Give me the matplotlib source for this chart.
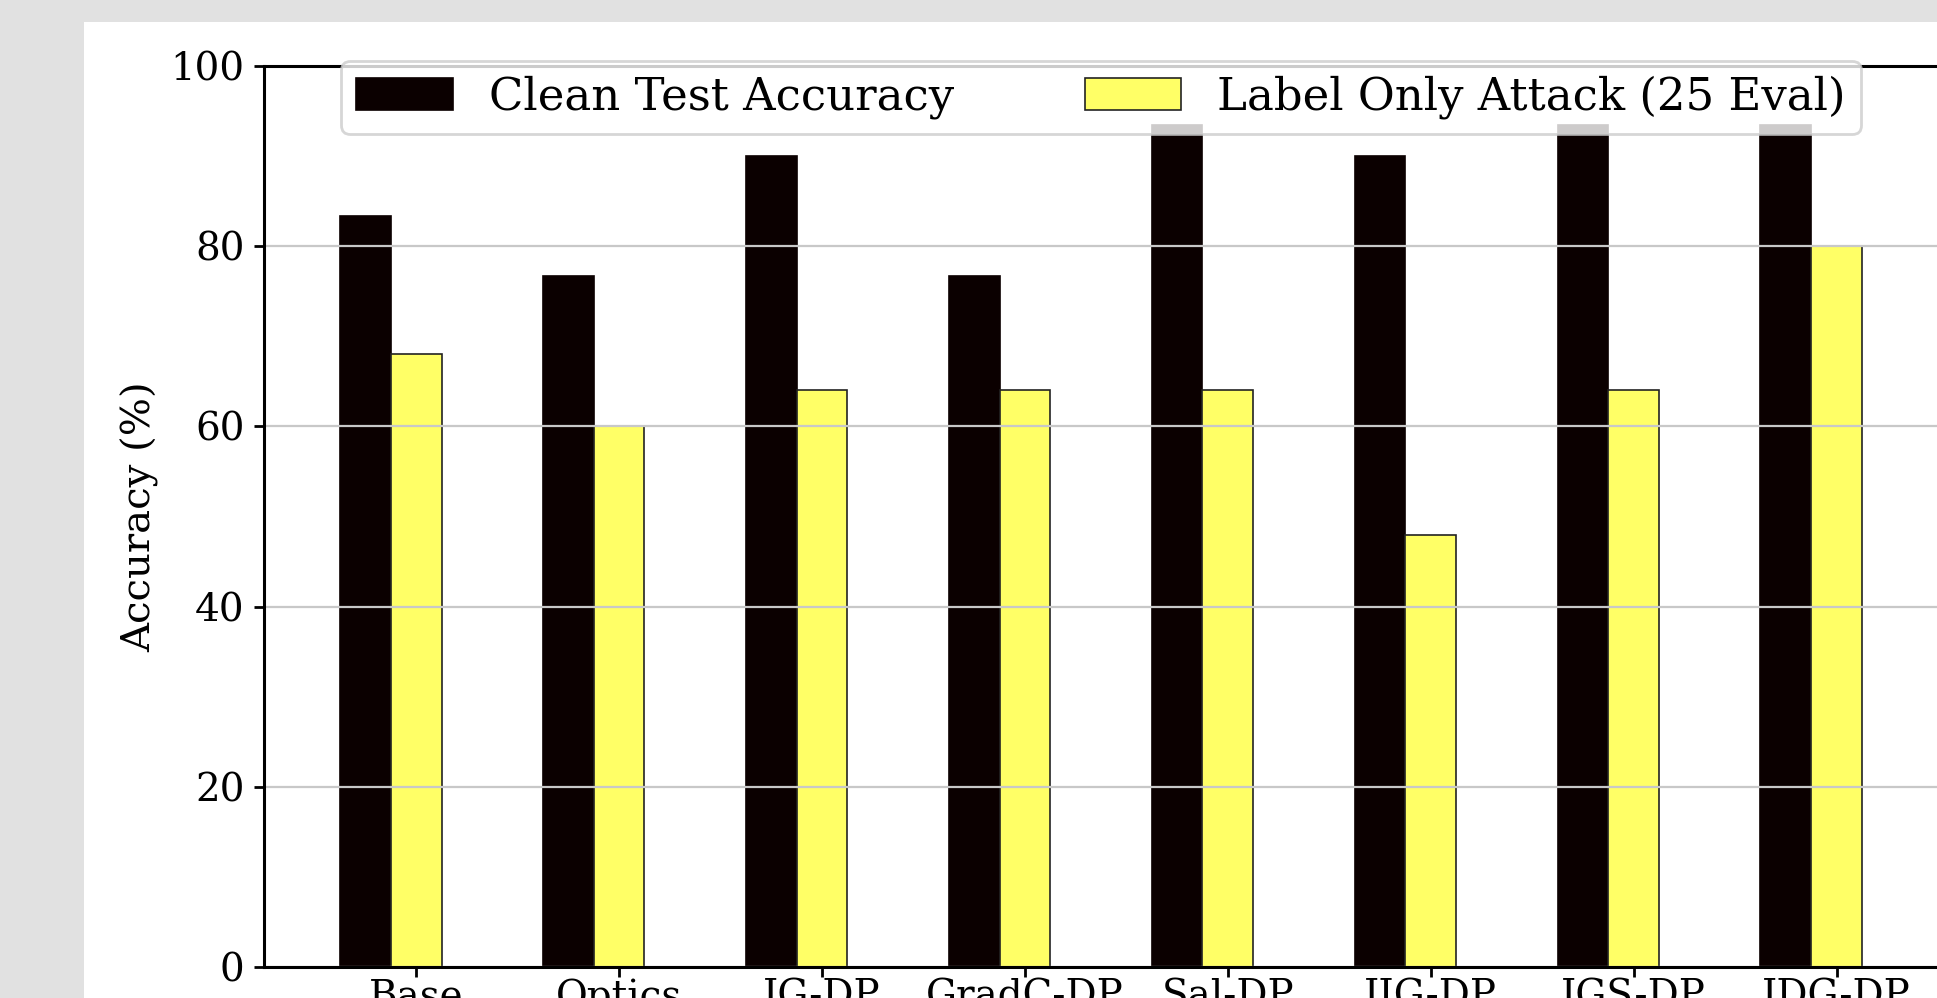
#!/usr/bin/env python3
import numpy as np

import matplotlib
matplotlib.use("Agg")
import matplotlib.pyplot as plt
from matplotlib.patches import Rectangle

plt.rcParams['font.family'] = 'serif'
plt.rcParams['font.serif'] = ['DejaVu Serif']

methods = ["Base", "Optics", "IG-DP", "GradC-DP", "Sal-DP", "IIG-DP", "IGS-DP", "IDG-DP"]
clean_acc = [83.4, 76.7, 90.0, 76.7, 93.4, 90.0, 93.4, 93.4]
label_only_acc = [68.0, 60.0, 64.0, 64.0, 64.0, 48.0, 64.0, 80.0]

W, H, DPI = 1937, 998, 200


def px_x(p):
    return p / W


def px_y(p):
    # pixel row from the top -> figure fraction from the bottom
    return 1 - p / H


def main():
    fig = plt.figure(figsize=(W / DPI, H / DPI), dpi=DPI, facecolor='#e1e1e1')

    # white page area (the reference is a cropped screenshot)
    fig.patches.append(Rectangle((px_x(84), 0), 1, px_y(22), transform=fig.transFigure,
                                 facecolor='white', edgecolor='none', zorder=-10))

    left, right, top, bottom = 264, 1938, 66, 967
    ax = fig.add_axes([px_x(left), px_y(bottom), px_x(right - left), px_y(top) - px_y(bottom)])

    x = np.arange(len(methods))
    width = 0.25

    ax.bar(x - width, clean_acc, width, color='#0b0000', edgecolor='#0b0000',
           linewidth=0.6, label='Clean Test Accuracy')
    ax.bar(x, label_only_acc, width, color='#ffff66', edgecolor='#222222',
           linewidth=0.6, label='Label Only Attack (25 Eval)')

    ax.set_xlim(-0.75, 7.5)
    ax.set_ylim(0, 100)
    ax.set_xticks(x)
    ax.set_xticklabels(methods)
    ax.set_yticks([0, 20, 40, 60, 80, 100])
    ax.tick_params(axis='both', labelsize=14, length=3.5, width=1.0)
    ax.tick_params(axis='x', pad=0.5)
    ax.set_ylabel('Accuracy (%)', fontsize=14.5)

    ax.yaxis.grid(True, color='#c8c8c8', linewidth=0.8)
    ax.spines['right'].set_visible(False)
    for s in ('left', 'top', 'bottom'):
        ax.spines[s].set_linewidth(1.1)

    ax.legend(loc='upper center', bbox_to_anchor=(0.5, 1.006), borderaxespad=0,
              ncol=2, fontsize=16.2, borderpad=0.33, handlelength=2.15,
              columnspacing=2.9)

    fig.savefig('out.png', dpi=DPI, facecolor=fig.get_facecolor())
    plt.close(fig)


if __name__ == "__main__":
    main()
